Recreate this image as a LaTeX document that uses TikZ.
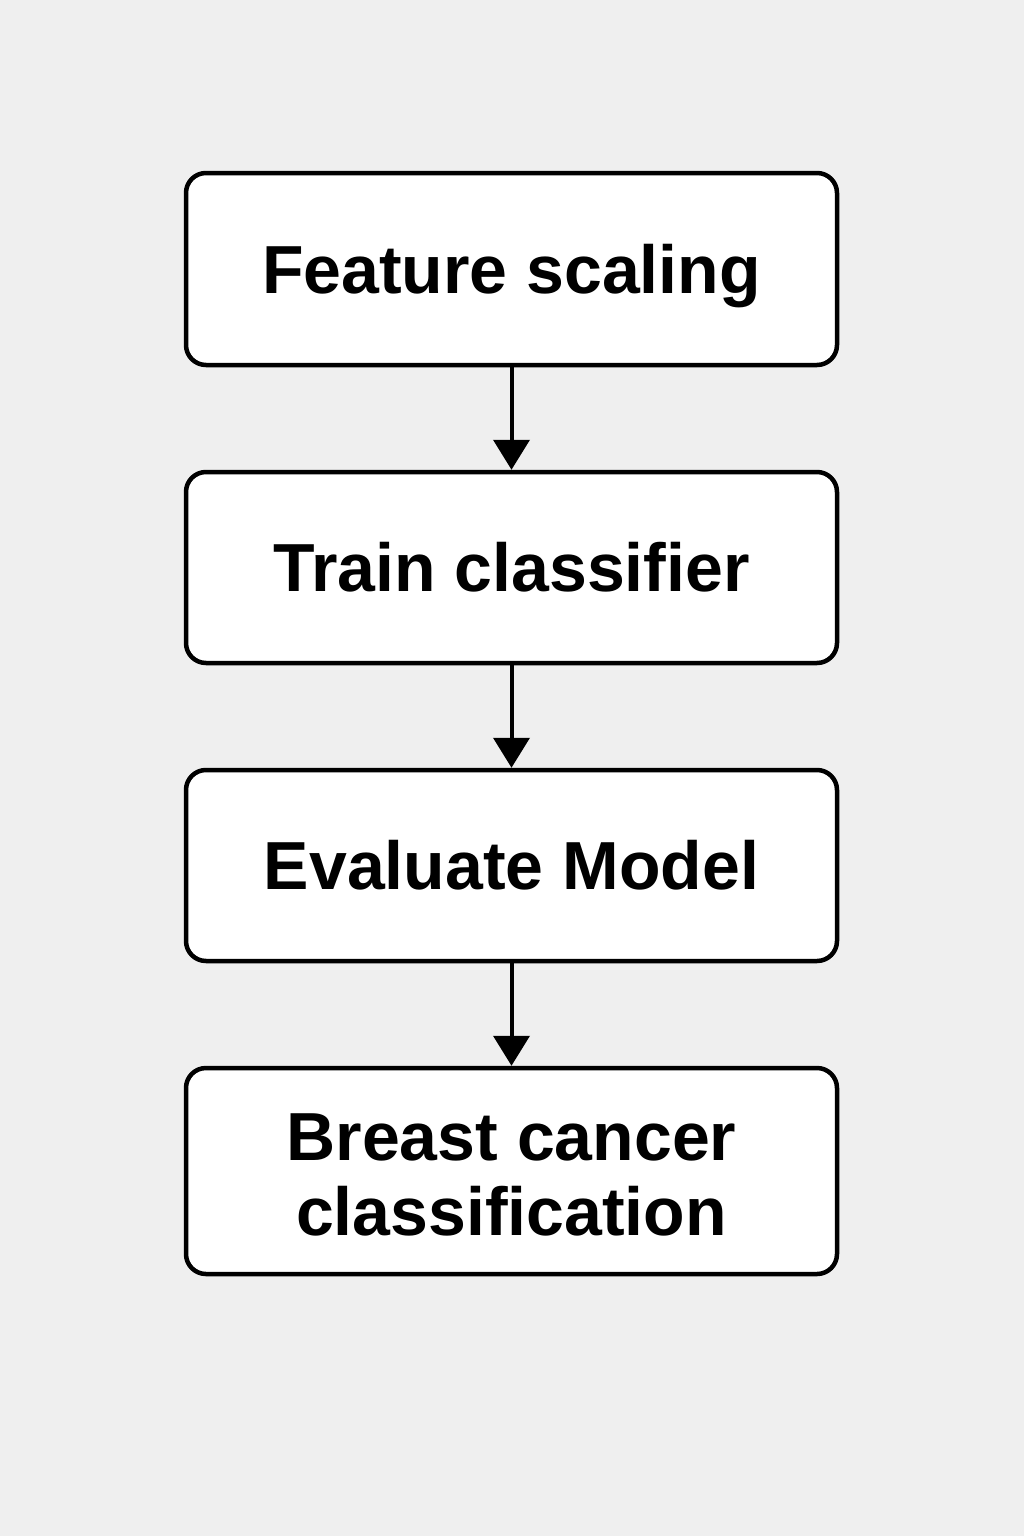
\documentclass[tikz,border=0pt]{standalone}
\usepackage{fontspec}
\setmainfont{Liberation Sans}
\usetikzlibrary{arrows.meta}
\definecolor{bg}{HTML}{EFEFEF}
\tikzset{
  stepbox/.style={draw=black, fill=white, line width=4.5pt, rounded corners=20pt,
    minimum width=651pt, align=center, text depth=14pt, text height=62pt,
    font=\fontsize{68}{75}\selectfont\bfseries},
  flow/.style={line width=4pt, -{Triangle[width=36pt,length=30pt]}}
}
\begin{document}
\begin{tikzpicture}[x=1pt,y=-1pt]
\fill[bg] (0,0) rectangle (1024,1536);
\useasboundingbox (0,0) rectangle (1024,1536);
\node[stepbox, minimum height=192pt] (a) at (511.5,269) {Feature scaling};
\node[stepbox, minimum height=191pt] (b) at (511.5,567.5) {Train classifier};
\node[stepbox, minimum height=191pt] (c) at (511.5,865.5) {Evaluate Model};
\node[stepbox, minimum height=206pt, text height=142pt] (d) at (511.5,1171) {Breast cancer\\classification};
\draw[flow] (a.south) -- (b.north);
\draw[flow] (b.south) -- (c.north);
\draw[flow] (c.south) -- (d.north);
\end{tikzpicture}
\end{document}
